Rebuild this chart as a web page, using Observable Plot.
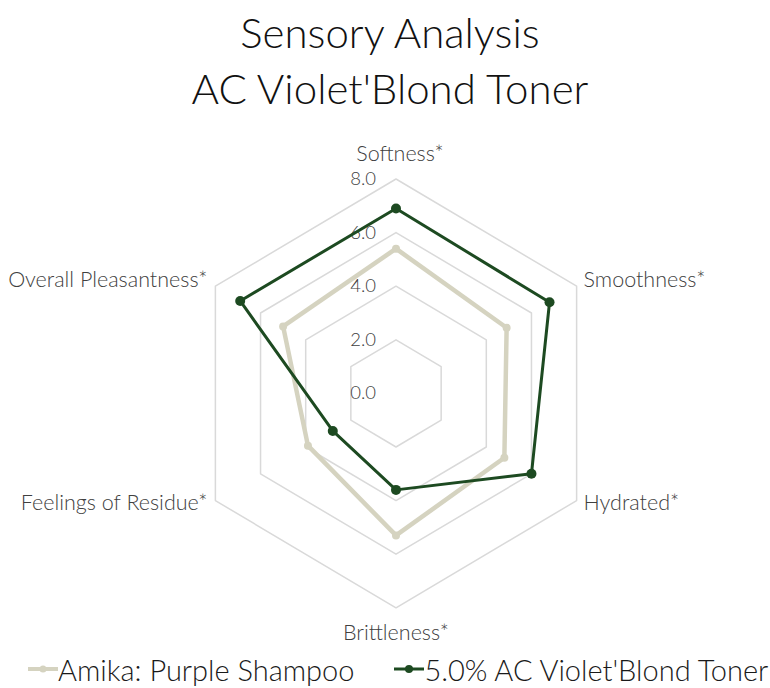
<!DOCTYPE html>
<html>
<head>
<meta charset="utf-8">
<script src="https://cdn.jsdelivr.net/npm/d3@7"></script>
<script src="https://cdn.jsdelivr.net/npm/@observablehq/plot@0.6"></script>
<style>
  body { margin: 0; background: #fff; font-family: Lato, "Open Sans", sans-serif; }
  #wrap { width: 770px; height: 688px; position: relative; overflow: hidden; }
  #title { height: 120px; box-sizing: border-box; padding-top: 4px; padding-left: 10px; text-align: center;
           font-size: 42px; line-height: 56px; color: #111; font-weight: 300; white-space: nowrap; }
  #chart { height: 530px; }
  #legend { height: 38px; box-sizing: border-box; padding-left: 28px; display: flex; align-items: center;
            font-size: 29px; color: #1a1a1a; white-space: nowrap; font-weight: 300; }
  .item { display: flex; align-items: center; margin-right: 40px; }
</style>
</head>
<body>
<div id="wrap">
  <div id="title">Sensory Analysis<br>AC Violet'Blond Toner</div>
  <div id="chart"></div>
  <div id="legend"></div>
</div>
<script>
const axes = ["Softness*", "Smoothness*", "Hydrated*", "Brittleness*", "Feelings of Residue*", "Overall Pleasantness*"];
const seriesNames = ["Amika: Purple Shampoo", "5.0% AC Violet'Blond Toner"];
const amika = [5.4, 4.9, 4.8, 5.3, 3.9, 5.0];
const toner = [6.9, 6.8, 6.0, 3.6, 2.8, 6.9];
const ticks = [0, 2, 4, 6, 8];
const tickLabels = ["0.0", "2.0", "4.0", "6.0", "8.0"];
const colors = ["#d5d3c0", "#1d4a21"];

const n = axes.length;
const ang = i => (i * 2 * Math.PI) / n;
const px = (r, i) => r * Math.sin(ang(i));
const py = (r, i) => r * Math.cos(ang(i));

// grid rings
const rings = [];
ticks.filter(t => t > 0).forEach(t => {
  for (let i = 0; i <= n; i++) rings.push({ ring: t, x: px(t, i % n), y: py(t, i % n) });
});

// series
const seriesVals = [amika, toner];
const lines = [];
const dots = [];
seriesVals.forEach((vals, s) => {
  for (let i = 0; i <= n; i++) {
    const k = i % n;
    lines.push({ s, x: px(vals[k], k), y: py(vals[k], k) });
  }
  vals.forEach((v, k) => dots.push({ s, x: px(v, k), y: py(v, k) }));
});

const rMax = ticks[ticks.length - 1];
const labelOffsets = [
  { anchor: "middle", dx: 4, dy: -25 },
  { anchor: "start", dx: 7, dy: -6 },
  { anchor: "start", dx: 7, dy: 3 },
  { anchor: "middle", dx: 0, dy: 25 },
  { anchor: "end", dx: -8, dy: 3 },
  { anchor: "end", dx: -8, dy: -6 }
];
const axisLabels = axes.map((a, i) => ({ label: a, x: px(rMax, i), y: py(rMax, i), ...labelOffsets[i] }));
const tickData = ticks.map((t, i) => ({ label: tickLabels[i], x: 0, y: t }));

const cx = 395.5, cy = 272.9, ux = 26.07, uy = 26.8;
const plot = Plot.plot({
  width: 770,
  height: 530,
  margin: 0,
  style: { fontFamily: "Lato, 'Open Sans', sans-serif", background: "transparent", fontWeight: 300 },
  x: { domain: [-rMax, rMax], range: [cx - rMax * ux, cx + rMax * ux], axis: null },
  y: { domain: [-rMax, rMax], range: [cy + rMax * uy, cy - rMax * uy], axis: null },
  marks: [
    Plot.line(rings, { x: "x", y: "y", z: "ring", stroke: "#d9d9d9", strokeWidth: 1.5 }),
    Plot.text(tickData, { x: "x", y: "y", text: "label", textAnchor: "end", dx: -20, fontSize: 18.5, fill: "#404040" }),
    Plot.line(lines.filter(d => d.s === 0), { x: "x", y: "y", stroke: colors[0], strokeWidth: 4.5, strokeLinejoin: "round" }),
    Plot.dot(dots.filter(d => d.s === 0), { x: "x", y: "y", r: 4, fill: colors[0] }),
    Plot.line(lines.filter(d => d.s === 1), { x: "x", y: "y", stroke: colors[1], strokeWidth: 3, strokeLinejoin: "round" }),
    Plot.dot(dots.filter(d => d.s === 1), { x: "x", y: "y", r: 5, fill: colors[1] }),
    ...axisLabels.map(d => Plot.text([d], { x: "x", y: "y", text: "label", textAnchor: d.anchor, dx: d.dx, dy: d.dy, fontSize: 21.5, fill: "#404040" }))
  ]
});
document.getElementById("chart").appendChild(plot);

const legend = document.getElementById("legend");
seriesNames.forEach((name, s) => {
  const item = document.createElement("div");
  item.className = "item";
  item.innerHTML = `<svg width="30" height="12"><line x1="0" y1="6" x2="30" y2="6" stroke="${colors[s]}" stroke-width="${s === 0 ? 4 : 3}"/><circle cx="15" cy="6" r="${s === 0 ? 3.5 : 4}" fill="${colors[s]}"/></svg><span>${name}</span>`;
  legend.appendChild(item);
});
</script>
</body>
</html>
